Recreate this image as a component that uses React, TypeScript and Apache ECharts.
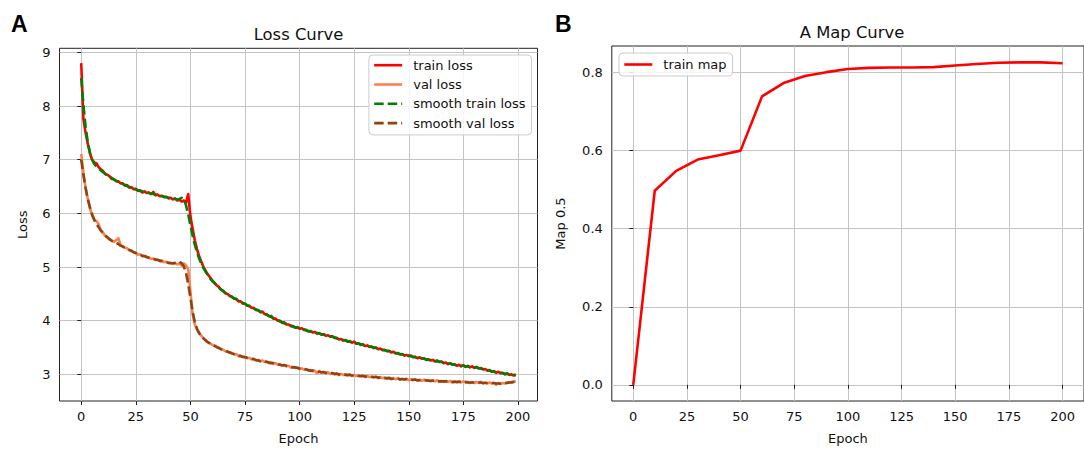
import React, { useEffect, useRef } from 'react';
import * as echarts from 'echarts';

const FONT = 'DejaVu Sans';

const epochs = Array.from({ length: 200 }, (_, i) => i);

const trainLoss = [
  8.80, 7.76, 7.50, 7.30, 7.12, 7.00, 6.95, 6.93, 6.86, 6.82,
  6.79, 6.73, 6.72, 6.69, 6.64, 6.64, 6.60, 6.60, 6.56, 6.56,
  6.52, 6.53, 6.48, 6.49, 6.45, 6.46, 6.42, 6.43, 6.39, 6.41,
  6.38, 6.39, 6.36, 6.40, 6.34, 6.35, 6.32, 6.33, 6.30, 6.31,
  6.28, 6.29, 6.26, 6.28, 6.24, 6.26, 6.22, 6.24, 6.20, 6.36,
  5.95, 5.72, 5.50, 5.34, 5.20, 5.10, 5.00, 4.93, 4.86, 4.81,
  4.75, 4.71, 4.66, 4.63, 4.58, 4.56, 4.51, 4.50, 4.46, 4.45,
  4.41, 4.41, 4.36, 4.36, 4.32, 4.32, 4.28, 4.28, 4.24, 4.24,
  4.20, 4.20, 4.16, 4.17, 4.12, 4.12, 4.08, 4.09, 4.04, 4.04,
  4.00, 4.00, 3.96, 3.97, 3.93, 3.93, 3.90, 3.90, 3.87, 3.88,
  3.85, 3.86, 3.83, 3.83, 3.80, 3.81, 3.78, 3.79, 3.76, 3.77,
  3.74, 3.75, 3.72, 3.73, 3.70, 3.71, 3.68, 3.68, 3.65, 3.66,
  3.63, 3.64, 3.61, 3.62, 3.59, 3.61, 3.57, 3.58, 3.55, 3.56,
  3.53, 3.54, 3.51, 3.52, 3.49, 3.50, 3.47, 3.48, 3.45, 3.46,
  3.43, 3.44, 3.41, 3.42, 3.39, 3.40, 3.37, 3.38, 3.35, 3.36,
  3.34, 3.35, 3.32, 3.33, 3.30, 3.32, 3.29, 3.30, 3.27, 3.28,
  3.26, 3.27, 3.24, 3.26, 3.23, 3.24, 3.21, 3.22, 3.19, 3.21,
  3.18, 3.19, 3.16, 3.18, 3.15, 3.17, 3.14, 3.16, 3.13, 3.15,
  3.12, 3.14, 3.11, 3.12, 3.09, 3.10, 3.07, 3.08, 3.05, 3.06,
  3.03, 3.05, 3.02, 3.03, 3.00, 3.02, 2.99, 3.00, 2.98, 2.99,
];

const valLoss = [
  7.11, 6.76, 6.48, 6.27, 6.10, 5.96, 5.87, 5.86, 5.80, 5.68,
  5.64, 5.58, 5.56, 5.51, 5.49, 5.47, 5.50, 5.54, 5.41, 5.39,
  5.36, 5.35, 5.31, 5.31, 5.27, 5.27, 5.23, 5.24, 5.20, 5.21,
  5.18, 5.18, 5.15, 5.16, 5.13, 5.14, 5.11, 5.12, 5.09, 5.10,
  5.07, 5.08, 5.06, 5.07, 5.05, 5.07, 5.03, 5.07, 5.03, 4.96,
  4.55, 4.13, 3.93, 3.84, 3.77, 3.72, 3.67, 3.64, 3.60, 3.58,
  3.55, 3.54, 3.51, 3.50, 3.47, 3.46, 3.43, 3.43, 3.40, 3.40,
  3.37, 3.38, 3.34, 3.35, 3.32, 3.33, 3.30, 3.31, 3.28, 3.29,
  3.26, 3.27, 3.24, 3.26, 3.23, 3.24, 3.21, 3.22, 3.20, 3.21,
  3.18, 3.19, 3.16, 3.18, 3.15, 3.16, 3.13, 3.14, 3.12, 3.13,
  3.10, 3.11, 3.09, 3.10, 3.07, 3.08, 3.06, 3.07, 3.02, 3.06,
  3.03, 3.05, 3.02, 3.04, 3.01, 3.03, 3.00, 3.02, 2.99, 3.01,
  2.99, 3.00, 2.98, 3.00, 2.97, 2.99, 2.97, 2.98, 2.96, 2.98,
  2.95, 2.97, 2.95, 2.96, 2.94, 2.96, 2.93, 2.95, 2.93, 2.94,
  2.92, 2.94, 2.91, 2.93, 2.91, 2.93, 2.90, 2.92, 2.90, 2.92,
  2.89, 2.91, 2.89, 2.91, 2.88, 2.90, 2.88, 2.90, 2.88, 2.89,
  2.87, 2.89, 2.87, 2.89, 2.86, 2.88, 2.86, 2.88, 2.86, 2.88,
  2.85, 2.87, 2.85, 2.87, 2.85, 2.87, 2.85, 2.86, 2.84, 2.86,
  2.84, 2.86, 2.84, 2.86, 2.83, 2.85, 2.83, 2.85, 2.83, 2.84,
  2.81, 2.84, 2.82, 2.84, 2.83, 2.85, 2.85, 2.86, 2.86, 2.88,
];

const smoothTrainLoss = [
  8.52, 8.02, 7.62, 7.33, 7.13, 7.00, 6.92, 6.87, 6.83, 6.80,
  6.77, 6.74, 6.71, 6.68, 6.66, 6.63, 6.61, 6.59, 6.57, 6.55,
  6.53, 6.51, 6.49, 6.48, 6.46, 6.45, 6.43, 6.42, 6.41, 6.40,
  6.39, 6.38, 6.37, 6.36, 6.35, 6.34, 6.33, 6.32, 6.31, 6.30,
  6.29, 6.28, 6.27, 6.27, 6.26, 6.27, 6.29, 6.26, 6.15, 5.98,
  5.78, 5.59, 5.42, 5.28, 5.16, 5.06, 4.98, 4.91, 4.85, 4.79,
  4.74, 4.70, 4.66, 4.62, 4.58, 4.55, 4.52, 4.49, 4.47, 4.44,
  4.42, 4.40, 4.37, 4.35, 4.33, 4.31, 4.29, 4.27, 4.25, 4.23,
  4.21, 4.19, 4.17, 4.15, 4.13, 4.11, 4.09, 4.07, 4.05, 4.03,
  4.01, 3.99, 3.97, 3.95, 3.94, 3.92, 3.91, 3.89, 3.88, 3.87,
  3.86, 3.85, 3.84, 3.82, 3.81, 3.80, 3.79, 3.78, 3.77, 3.76,
  3.75, 3.74, 3.73, 3.72, 3.71, 3.70, 3.69, 3.67, 3.66, 3.65,
  3.64, 3.63, 3.62, 3.61, 3.60, 3.59, 3.58, 3.57, 3.56, 3.55,
  3.54, 3.53, 3.52, 3.51, 3.50, 3.49, 3.48, 3.47, 3.46, 3.45,
  3.44, 3.43, 3.42, 3.41, 3.40, 3.39, 3.38, 3.37, 3.36, 3.35,
  3.35, 3.34, 3.33, 3.32, 3.31, 3.31, 3.30, 3.29, 3.28, 3.27,
  3.27, 3.26, 3.25, 3.24, 3.24, 3.23, 3.22, 3.21, 3.20, 3.20,
  3.19, 3.18, 3.17, 3.17, 3.16, 3.16, 3.15, 3.15, 3.14, 3.14,
  3.13, 3.13, 3.12, 3.11, 3.10, 3.09, 3.08, 3.07, 3.06, 3.05,
  3.04, 3.03, 3.03, 3.02, 3.01, 3.01, 3.00, 3.00, 2.99, 2.99,
];

const smoothValLoss = [
  7.00, 6.72, 6.47, 6.27, 6.11, 5.98, 5.88, 5.80, 5.74, 5.68,
  5.63, 5.59, 5.55, 5.52, 5.49, 5.47, 5.45, 5.43, 5.40, 5.38,
  5.36, 5.34, 5.32, 5.30, 5.28, 5.26, 5.24, 5.23, 5.21, 5.20,
  5.19, 5.17, 5.16, 5.15, 5.14, 5.13, 5.12, 5.11, 5.10, 5.09,
  5.08, 5.07, 5.07, 5.08, 5.10, 5.10, 5.07, 5.01, 4.89, 4.68,
  4.43, 4.17, 3.98, 3.85, 3.77, 3.71, 3.67, 3.63, 3.60, 3.57,
  3.55, 3.53, 3.51, 3.49, 3.47, 3.45, 3.44, 3.42, 3.41, 3.39,
  3.38, 3.37, 3.35, 3.34, 3.33, 3.32, 3.31, 3.30, 3.29, 3.28,
  3.27, 3.26, 3.25, 3.25, 3.24, 3.23, 3.22, 3.21, 3.21, 3.20,
  3.19, 3.18, 3.17, 3.17, 3.16, 3.15, 3.14, 3.13, 3.13, 3.12,
  3.11, 3.10, 3.10, 3.09, 3.08, 3.07, 3.07, 3.06, 3.05, 3.05,
  3.04, 3.04, 3.03, 3.03, 3.02, 3.02, 3.01, 3.01, 3.00, 3.00,
  3.00, 2.99, 2.99, 2.99, 2.98, 2.98, 2.98, 2.97, 2.97, 2.97,
  2.96, 2.96, 2.96, 2.95, 2.95, 2.95, 2.94, 2.94, 2.94, 2.93,
  2.93, 2.93, 2.92, 2.92, 2.92, 2.92, 2.91, 2.91, 2.91, 2.91,
  2.90, 2.90, 2.90, 2.90, 2.89, 2.89, 2.89, 2.89, 2.89, 2.88,
  2.88, 2.88, 2.88, 2.88, 2.87, 2.87, 2.87, 2.87, 2.87, 2.87,
  2.86, 2.86, 2.86, 2.86, 2.86, 2.86, 2.86, 2.85, 2.85, 2.85,
  2.85, 2.85, 2.85, 2.85, 2.84, 2.84, 2.84, 2.84, 2.84, 2.84,
  2.83, 2.83, 2.83, 2.83, 2.84, 2.84, 2.85, 2.85, 2.86, 2.87,
];

const mapEpochs = [0, 10, 20, 30, 40, 50, 60, 70, 80, 90, 100, 110, 120, 130, 140, 150, 160, 170, 180, 190, 200];
const mapValues = [0.0, 0.497, 0.548, 0.577, 0.588, 0.600, 0.739, 0.773, 0.791, 0.801, 0.809, 0.812, 0.813, 0.813, 0.814, 0.818, 0.822, 0.825, 0.826, 0.826, 0.824];

const xTicks = [0, 25, 50, 75, 100, 125, 150, 175, 200];
const lossTicks = [3, 4, 5, 6, 7, 8, 9];
const mapTicks = [0, 0.2, 0.4, 0.6, 0.8];

const lossNames = ['train loss', 'val loss', 'smooth train loss', 'smooth val loss'];
const mapNames = ['train map'];

const TEXT = '#111111';
const SPINE = '#222222';
const GRIDC = '#c4c4c4';

function xAxisCfg(gridIndex: number, min: number, max: number) {
  return {
    type: 'value',
    gridIndex,
    min,
    max,
    axisLine: { show: false },
    axisTick: { show: true, length: 4, lineStyle: { color: SPINE, width: 1 }, customValues: xTicks },
    axisLabel: { customValues: xTicks, color: TEXT, fontFamily: FONT, fontSize: 13, margin: 9 },
    splitLine: { show: true, lineStyle: { color: GRIDC, width: 1 } },
    name: 'Epoch',
    nameLocation: 'middle',
    nameGap: 31,
    nameTextStyle: { color: TEXT, fontFamily: FONT, fontSize: 13 },
  };
}

function yAxisCfg(gridIndex: number, min: number, max: number, ticks: number[], name: string, gap: number, digits: number) {
  return {
    type: 'value',
    gridIndex,
    min,
    max,
    axisLine: { show: false },
    axisTick: { show: true, length: 4, lineStyle: { color: SPINE, width: 1 }, customValues: ticks },
    axisLabel: {
      customValues: ticks,
      color: TEXT,
      fontFamily: FONT,
      fontSize: 13,
      margin: 9,
      formatter: (v: number) => v.toFixed(digits),
    },
    splitLine: { show: true, lineStyle: { color: GRIDC, width: 1 } },
    name,
    nameLocation: 'middle',
    nameGap: gap,
    nameTextStyle: { color: TEXT, fontFamily: FONT, fontSize: 13 },
  };
}

function lineSeries(name: string, xs: number[], ys: number[], color: string, dashed: boolean, xi: number) {
  return {
    type: 'line',
    name,
    xAxisIndex: xi,
    yAxisIndex: xi,
    data: ys.map((v, i) => [xs[i], v]),
    showSymbol: false,
    symbol: 'none',
    lineStyle: {
      color,
      width: 2.6,
      type: dashed ? [9.5, 4] : 'solid',
      cap: 'butt',
      join: 'round',
    },
    itemStyle: { color },
    emphasis: { disabled: true },
    z: 2,
  };
}

const legendBase = {
  orient: 'vertical',
  itemWidth: 28,
  itemHeight: 14,
  itemGap: 6.3,
  borderColor: '#cccccc',
  borderWidth: 1,
  borderRadius: 4,
  backgroundColor: 'rgba(255,255,255,0.85)',
  selectedMode: false,
  itemStyle: { opacity: 0 },
  lineStyle: { width: 2.6, opacity: 1 },
  textStyle: { color: TEXT, fontFamily: FONT, fontSize: 13, padding: [0, 0, 0, 6] },
};

export default function App() {
  const ref = useRef<HTMLDivElement>(null);

  useEffect(() => {
    if (!ref.current) return;
    const chart = echarts.init(ref.current, undefined, { renderer: 'svg' });
    const option: any = {
      animation: false,
      backgroundColor: '#ffffff',
      grid: [
        { left: 59.5, top: 48.3, width: 478, height: 357.7, show: true, borderColor: SPINE, borderWidth: 1, backgroundColor: 'transparent' },
        { left: 611.8, top: 46, width: 481, height: 360, show: true, borderColor: SPINE, borderWidth: 1, backgroundColor: 'transparent' },
      ],
      xAxis: [xAxisCfg(0, -9.95, 208.95), xAxisCfg(1, -10, 210)],
      yAxis: [
        yAxisCfg(0, 2.504, 9.077, lossTicks, 'Loss', 31, 0),
        yAxisCfg(1, -0.0414, 0.868, mapTicks, 'Map 0.5', 45, 1),
      ],
      legend: [
        { ...legendBase, data: lossNames, right: 1084 - 531.5, top: 55, padding: [3.7, 6, 5.3, 4] },
        { ...legendBase, data: mapNames, left: 619, top: 53, padding: [5, 6, 5, 4] },
      ],
      graphic: [
        { type: 'text', left: 11, top: 12, style: { text: 'A', font: 'bold 23px "Liberation Sans"', fill: '#000' } },
        { type: 'text', left: 555, top: 12, style: { text: 'B', font: 'bold 23px "Liberation Sans"', fill: '#000' } },
        { type: 'text', x: 298.5, y: 34, style: { text: 'Loss Curve', font: '16.4px "DejaVu Sans"', fill: TEXT, align: 'center', verticalAlign: 'middle' } },
        { type: 'text', x: 852, y: 32, style: { text: 'A Map Curve', font: '16.4px "DejaVu Sans"', fill: TEXT, align: 'center', verticalAlign: 'middle' } },
      ],
      series: [
        lineSeries(lossNames[0], epochs, trainLoss, '#ff0000', false, 0),
        lineSeries(lossNames[1], epochs, valLoss, '#ff7f50', false, 0),
        lineSeries(lossNames[2], epochs, smoothTrainLoss, '#008000', true, 0),
        lineSeries(lossNames[3], epochs, smoothValLoss, '#8b4513', true, 0),
        lineSeries(mapNames[0], mapEpochs, mapValues, '#ff0000', false, 1),
      ],
    };
    chart.setOption(option);
    return () => chart.dispose();
  }, []);

  return (
    <div
      ref={ref}
      style={{ position: 'fixed', left: 0, top: 0, width: 1084, height: 450, background: '#fff' }}
    />
  );
}
